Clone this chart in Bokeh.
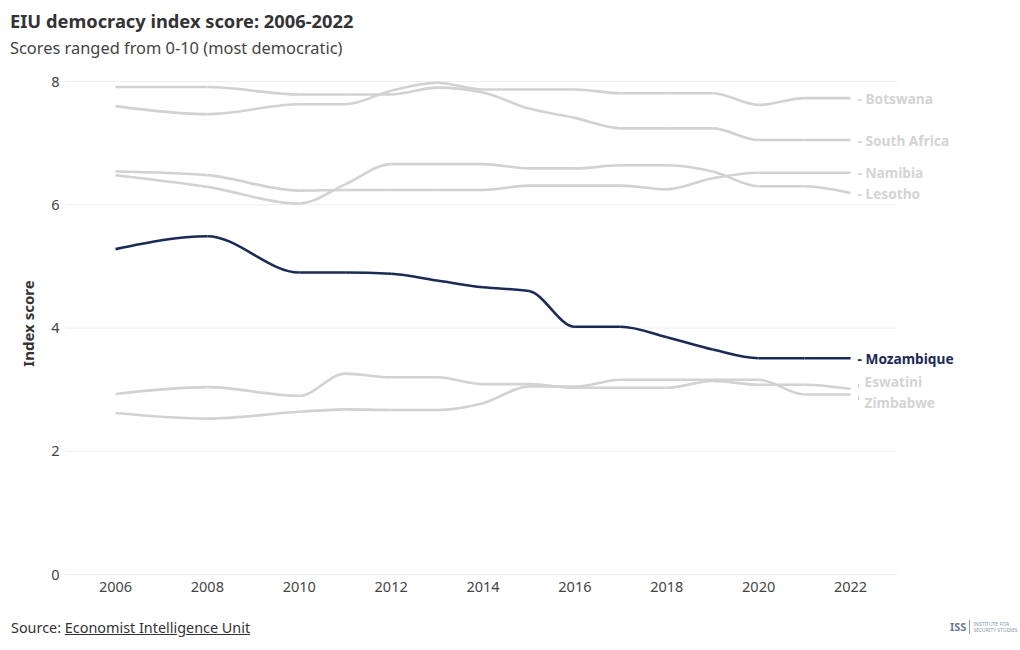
from bokeh.plotting import figure
from bokeh.models import ColumnDataSource, FixedTicker, Div
from bokeh.layouts import column
from bokeh.core.properties import value
from bokeh.embed import file_html
from bokeh.resources import INLINE

years = [2006, 2008, 2010, 2011, 2012, 2013, 2014, 2015, 2016, 2017, 2018, 2019, 2020, 2021, 2022]
botswana = [7.60, 7.47, 7.63, 7.63, 7.85, 7.98, 7.87, 7.87, 7.87, 7.81, 7.81, 7.81, 7.62, 7.73, 7.73]
south_africa = [7.91, 7.91, 7.79, 7.79, 7.79, 7.90, 7.82, 7.56, 7.41, 7.24, 7.24, 7.24, 7.05, 7.05, 7.05]
namibia = [6.54, 6.48, 6.23, 6.24, 6.24, 6.24, 6.24, 6.31, 6.31, 6.31, 6.25, 6.43, 6.52, 6.52, 6.52]
lesotho = [6.48, 6.29, 6.02, 6.33, 6.66, 6.66, 6.66, 6.59, 6.59, 6.64, 6.64, 6.54, 6.30, 6.30, 6.19]
mozambique = [5.28, 5.49, 4.90, 4.90, 4.88, 4.77, 4.66, 4.60, 4.02, 4.02, 3.85, 3.65, 3.51, 3.51, 3.51]
eswatini = [2.93, 3.04, 2.90, 3.26, 3.20, 3.20, 3.09, 3.09, 3.03, 3.03, 3.03, 3.14, 3.08, 3.08, 3.01]
zimbabwe = [2.62, 2.53, 2.64, 2.68, 2.67, 2.67, 2.78, 3.05, 3.05, 3.16, 3.16, 3.16, 3.16, 2.92, 2.92]

countries = ["Botswana", "South Africa", "Namibia", "Lesotho", "Eswatini", "Zimbabwe", "Mozambique"]
series = [botswana, south_africa, namibia, lesotho, eswatini, zimbabwe, mozambique]
x_ticks = [2006, 2008, 2010, 2012, 2014, 2016, 2018, 2020, 2022]
y_ticks = [0, 2, 4, 6, 8]

title_text = "EIU democracy index score: 2006-2022"
subtitle_text = "Scores ranged from 0-10 (most democratic)"
source_label = "Source:"
source_link = "Economist Intelligence Unit"

GREY = "#d2d2d2"
LABEL_GREY = "#d4d4d4"
NAVY = "#1b2a56"
FONT = "Noto Sans"
W = 1020

# page-pixel -> data helpers for the main chart
PX_Y = 61.625
PX_X = 45.94
def dy(py):
    return 8 - (py - 81) / PX_Y
def dx(px):
    return 2006 + (px - 115) / PX_X


def monotone_beziers(xs, ys):
    n = len(xs)
    t = [0.0] * n
    def sign(v):
        return (v > 0) - (v < 0)
    for i in range(1, n - 1):
        h0 = xs[i] - xs[i - 1]
        h1 = xs[i + 1] - xs[i]
        s0 = (ys[i] - ys[i - 1]) / h0
        s1 = (ys[i + 1] - ys[i]) / h1
        p_ = (s0 * h1 + s1 * h0) / (h0 + h1)
        t[i] = (sign(s0) + sign(s1)) * min(abs(s0), abs(s1), 0.5 * abs(p_))
    h = xs[1] - xs[0]
    t[0] = (3 * (ys[1] - ys[0]) / h - t[1]) / 2
    h = xs[-1] - xs[-2]
    t[-1] = (3 * (ys[-1] - ys[-2]) / h - t[-2]) / 2
    d = dict(x0=[], y0=[], x1=[], y1=[], cx0=[], cy0=[], cx1=[], cy1=[])
    for i in range(n - 1):
        d3 = (xs[i + 1] - xs[i]) / 3
        d["x0"].append(xs[i]); d["y0"].append(ys[i])
        d["x1"].append(xs[i + 1]); d["y1"].append(ys[i + 1])
        d["cx0"].append(xs[i] + d3); d["cy0"].append(ys[i] + d3 * t[i])
        d["cx1"].append(xs[i + 1] - d3); d["cy1"].append(ys[i + 1] - d3 * t[i + 1])
    return d

# ---------- header ----------
HEAD_H = 62
head = Div(width=W, height=HEAD_H, margin=0, text=(
    f'<div style="font-family:\'{FONT}\';margin:0;padding:0 0 0 10px;">'
    f'<div style="font-size:18.3px;font-weight:bold;color:#333333;line-height:22px;padding-top:10px;">{title_text}</div>'
    f'<div style="font-size:16.4px;color:#444444;line-height:22px;padding-top:5px;">{subtitle_text}</div>'
    '</div>'))

# ---------- main chart ----------
MAIN_TOP = HEAD_H
MAIN_BOTTOM = 605
FRAME_TOP, FRAME_BOTTOM, FRAME_LEFT, GRID_RIGHT = 70, 576, 65, 897
p = figure(width=W, height=MAIN_BOTTOM - MAIN_TOP, output_backend="svg", toolbar_location=None,
           x_range=(dx(FRAME_LEFT), dx(W)), y_range=(dy(FRAME_BOTTOM), dy(FRAME_TOP)),
           min_border_left=FRAME_LEFT, min_border_right=0,
           min_border_top=FRAME_TOP - MAIN_TOP, min_border_bottom=MAIN_BOTTOM - FRAME_BOTTOM,
           title=None, margin=0)
p.outline_line_color = None
p.background_fill_color = "white"
p.border_fill_color = "white"
p.xgrid.grid_line_color = None
p.ygrid.grid_line_color = None

# horizontal grid lines limited to the plotting band
p.segment(x0=[dx(FRAME_LEFT)] * len(y_ticks), x1=[dx(GRID_RIGHT)] * len(y_ticks),
          y0=y_ticks, y1=y_ticks, line_color="#eeeeee", line_width=1)

p.xaxis.ticker = FixedTicker(ticks=x_ticks)
p.yaxis.ticker = FixedTicker(ticks=y_ticks)
for ax in (p.xaxis[0], p.yaxis[0]):
    ax.axis_line_color = None
    ax.major_tick_line_color = None
    ax.minor_tick_line_color = None
    ax.major_label_text_font = FONT
    ax.major_label_text_font_size = "14.5px"
    ax.major_label_text_color = "#444444"
p.xaxis.major_label_standoff = -1
p.yaxis.major_label_standoff = 0
p.yaxis.axis_label = "Index score"
p.yaxis.axis_label_text_font = FONT
p.yaxis.axis_label_text_font_size = "15px"
p.yaxis.axis_label_text_font_style = "bold"
p.yaxis.axis_label_text_color = "#333333"
p.yaxis.axis_label_standoff = 10

for name, vals in zip(countries, series):
    src = ColumnDataSource(monotone_beziers(years, vals))
    highlight = name == "Mozambique"
    p.bezier(x0="x0", y0="y0", x1="x1", y1="y1", cx0="cx0", cy0="cy0", cx1="cx1", cy1="cy1",
             source=src, line_color=NAVY if highlight else GREY, line_width=2.6)

# end labels
label_offsets = {"Eswatini": 8, "Zimbabwe": -8}
lab_x, lab_y, lab_t, lab_yo, lab_xo, lab_c = [], [], [], [], [], []
for name, vals in zip(countries, series):
    lab_x.append(years[-1])
    lab_y.append(vals[-1])
    if name in label_offsets:
        lab_t.append(name)
        lab_yo.append(-label_offsets[name])
        lab_xo.append(14)
    else:
        lab_t.append("- " + name)
        lab_yo.append(0)
        lab_xo.append(7)
    lab_c.append(NAVY if name == "Mozambique" else LABEL_GREY)
lsrc = ColumnDataSource(dict(x=lab_x, y=lab_y, text=lab_t, yo=lab_yo, xo=lab_xo, c=lab_c))
p.text(x="x", y="y", text="text", source=lsrc, x_offset="xo", y_offset="yo",
       text_color="c", text_font=value(FONT), text_font_size="13.7px",
       text_font_style="bold", text_baseline="middle", text_align="left")
# small connectors for the two offset labels
cx, cy0, cy1 = [], [], []
for name, vals in zip(countries, series):
    if name in label_offsets:
        off = label_offsets[name]
        cx.append(years[-1] + 8 / PX_X)
        cy0.append(vals[-1] + 1 * (1 if off > 0 else -1) / PX_Y)
        cy1.append(vals[-1] + 0.7 * off / PX_Y)
p.segment(x0=cx, x1=cx, y0=cy0, y1=cy1, line_color=LABEL_GREY, line_width=1)

# ---------- footer ----------
FOOT_H = 650 - MAIN_BOTTOM - 2
foot = Div(width=W, height=FOOT_H, margin=0, text=(
    f'<div style="font-family:\'{FONT}\';position:relative;width:{W}px;height:{FOOT_H}px;">'
    f'<div style="position:absolute;left:11px;top:12px;font-size:14.4px;line-height:22px;color:#333333;">'
    f'{source_label} <span style="text-decoration:underline;">{source_link}</span></div>'
    '<div style="position:absolute;left:950px;top:14px;display:flex;align-items:center;">'
    '<span style="font-size:11px;font-weight:bold;color:#6b7a99;">ISS</span>'
    '<span style="display:inline-block;width:1px;height:14px;background:#8a96b0;margin:0 3px;"></span>'
    '<span style="font-size:5px;line-height:6px;color:#8a96b0;">INSTITUTE FOR<br>SECURITY STUDIES</span>'
    '</div></div>'))

layout = column(head, p, foot, spacing=0)
open("out.html", "w").write(file_html(layout, INLINE))
